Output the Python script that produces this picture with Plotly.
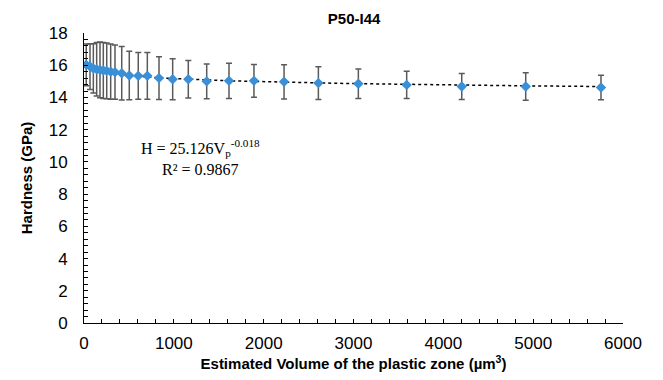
import numpy as np
import plotly.graph_objects as go

# Estimated plastic-zone volume (µm³)
volume = [25, 67, 104, 141, 178, 215, 253, 297, 345, 420, 504, 604, 705, 835, 987,
          1161, 1366, 1614, 1892, 2227, 2609, 3054, 3592, 4205, 4917, 5755]
# Hardness (GPa)
hardness = [16.02, 15.92, 15.80, 15.75, 15.71, 15.67, 15.65, 15.60, 15.57, 15.50, 15.36,
            15.34, 15.34, 15.20, 15.13, 15.13, 15.00, 15.03, 15.03, 14.97, 14.89, 14.85,
            14.78, 14.68, 14.68, 14.62]
# Standard deviation (GPa)
hardness_err = [1.30, 1.42, 1.53, 1.66, 1.73, 1.74, 1.73, 1.71, 1.68, 1.66, 1.50, 1.45,
                1.45, 1.33, 1.27, 1.16, 1.08, 1.10, 1.02, 1.06, 1.02, 0.92, 0.85, 0.81,
                0.85, 0.76]

x_ticks = [0, 1000, 2000, 3000, 4000, 5000, 6000]
y_ticks = [0, 2, 4, 6, 8, 10, 12, 14, 16, 18]

# Power-law trendline fitted to the data
b, log_a = np.polyfit(np.log(volume), np.log(hardness), 1)
fit_x = np.linspace(min(volume), max(volume), 300)
fit_y = np.exp(log_a) * fit_x ** b

fig = go.Figure()
fig.add_trace(go.Scatter(
    x=fit_x, y=fit_y, mode="lines",
    line=dict(color="black", width=1.5, dash="dot"),
    hoverinfo="skip", showlegend=False))
fig.add_trace(go.Scatter(
    x=volume, y=hardness, mode="markers",
    marker=dict(symbol="diamond", size=8, color="#3A8FD6"),
    error_y=dict(type="data", array=hardness_err, visible=True,
                 color="#5a5a5a", thickness=1.5, width=3),
    showlegend=False))

fig.add_annotation(x=1300, y=10.25, xref="x", yref="y",
                   text="H = 25.126V<sub>p</sub><sup>-0.018</sup><br>R² = 0.9867",
                   showarrow=False, align="center",
                   font=dict(family="Liberation Serif, Times New Roman, serif", size=16, color="black"))

# The page body has an 8px default margin, so the figure is sized/offset to compensate
fig.update_layout(
    width=647, height=364,
    margin=dict(l=76, r=32, t=25, b=49),
    paper_bgcolor="white", plot_bgcolor="white",
    font=dict(family="Liberation Sans, Arial, sans-serif", color="black", size=17),
    title=dict(text="<b>P50-I44</b>", x=0.535, xanchor="center", y=0.97, yanchor="middle",
               font=dict(size=15, color="black")),
)
fig.update_xaxes(
    range=[0, 6000], tickvals=x_ticks, ticktext=[str(v) for v in x_ticks],
    showgrid=False, zeroline=False, showline=True, linecolor="black", linewidth=1,
    ticks="inside", ticklen=4, tickcolor="black", ticklabelstandoff=5, automargin=False,
    minor=dict(ticks="inside", dtick=200, ticklen=4, tickcolor="black", showgrid=False),
    title=dict(text="<b>Estimated Volume of the plastic zone (µm<sup>3</sup>)</b>",
               font=dict(size=15), standoff=5),
)
fig.update_yaxes(
    range=[0, 18], tickvals=y_ticks, ticktext=[str(v) for v in y_ticks],
    showgrid=False, zeroline=False, showline=True, linecolor="black", linewidth=1,
    ticks="inside", ticklen=4, tickcolor="black", ticklabelstandoff=12, automargin=False,
    minor=dict(ticks="inside", dtick=0.4, ticklen=4, tickcolor="black", showgrid=False),
    title=dict(text="<b>Hardness (GPa)</b>", font=dict(size=15), standoff=12),
)

fig.write_html("out.html")
